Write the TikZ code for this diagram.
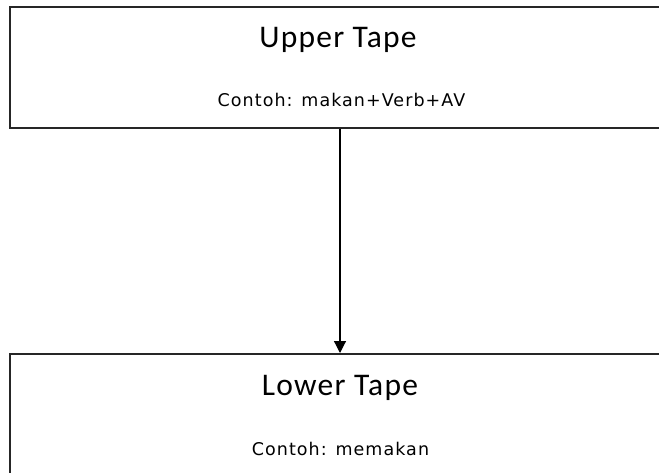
\documentclass[tikz,border=0pt]{standalone}
\usepackage{fontspec}
\setmainfont{Carlito}[LetterSpace=4]
\newfontfamily\notefont[LetterSpace=6]{DejaVu Sans}
\usetikzlibrary{arrows.meta}
\begin{document}
\begin{tikzpicture}[x=1pt,y=-1pt,
  tape/.style={draw=black!85, line width=2pt, fill=white, inner sep=0pt},
  tapetitle/.style={font=\fontsize{31.5}{31.5}\selectfont, anchor=base, inner sep=0pt},
  tapenote/.style={font=\notefont\fontsize{17.5}{17.5}\selectfont, anchor=base, inner sep=0pt},
  flow/.style={line width=1.2pt, -{Triangle[length=12pt,width=12pt]}}]
\useasboundingbox (0,0) rectangle (659,472);
\clip (0,0) rectangle (659,472);
% the two tapes
\node[tape, minimum width=680pt, minimum height=121pt] (upper) at (350,67) {};
\node[tape, minimum width=680pt, minimum height=140pt] (lower) at (350,424) {};
% labels
\node[tapetitle] (uppertitle) at (338,47.5) {Upper Tape};
\node[tapenote] (uppernote) at (341.5,106) {Contoh: makan+Verb+AV};
\node[tapetitle] (lowertitle) at (340,395) {Lower Tape};
\node[tapenote] (lowernote) at (340.5,455) {Contoh: memakan};
% mapping from upper to lower tape
\coordinate (axis) at (340,0);
\draw[flow] (upper.south -| axis) -- (lower.north -| axis);
\end{tikzpicture}
\end{document}
